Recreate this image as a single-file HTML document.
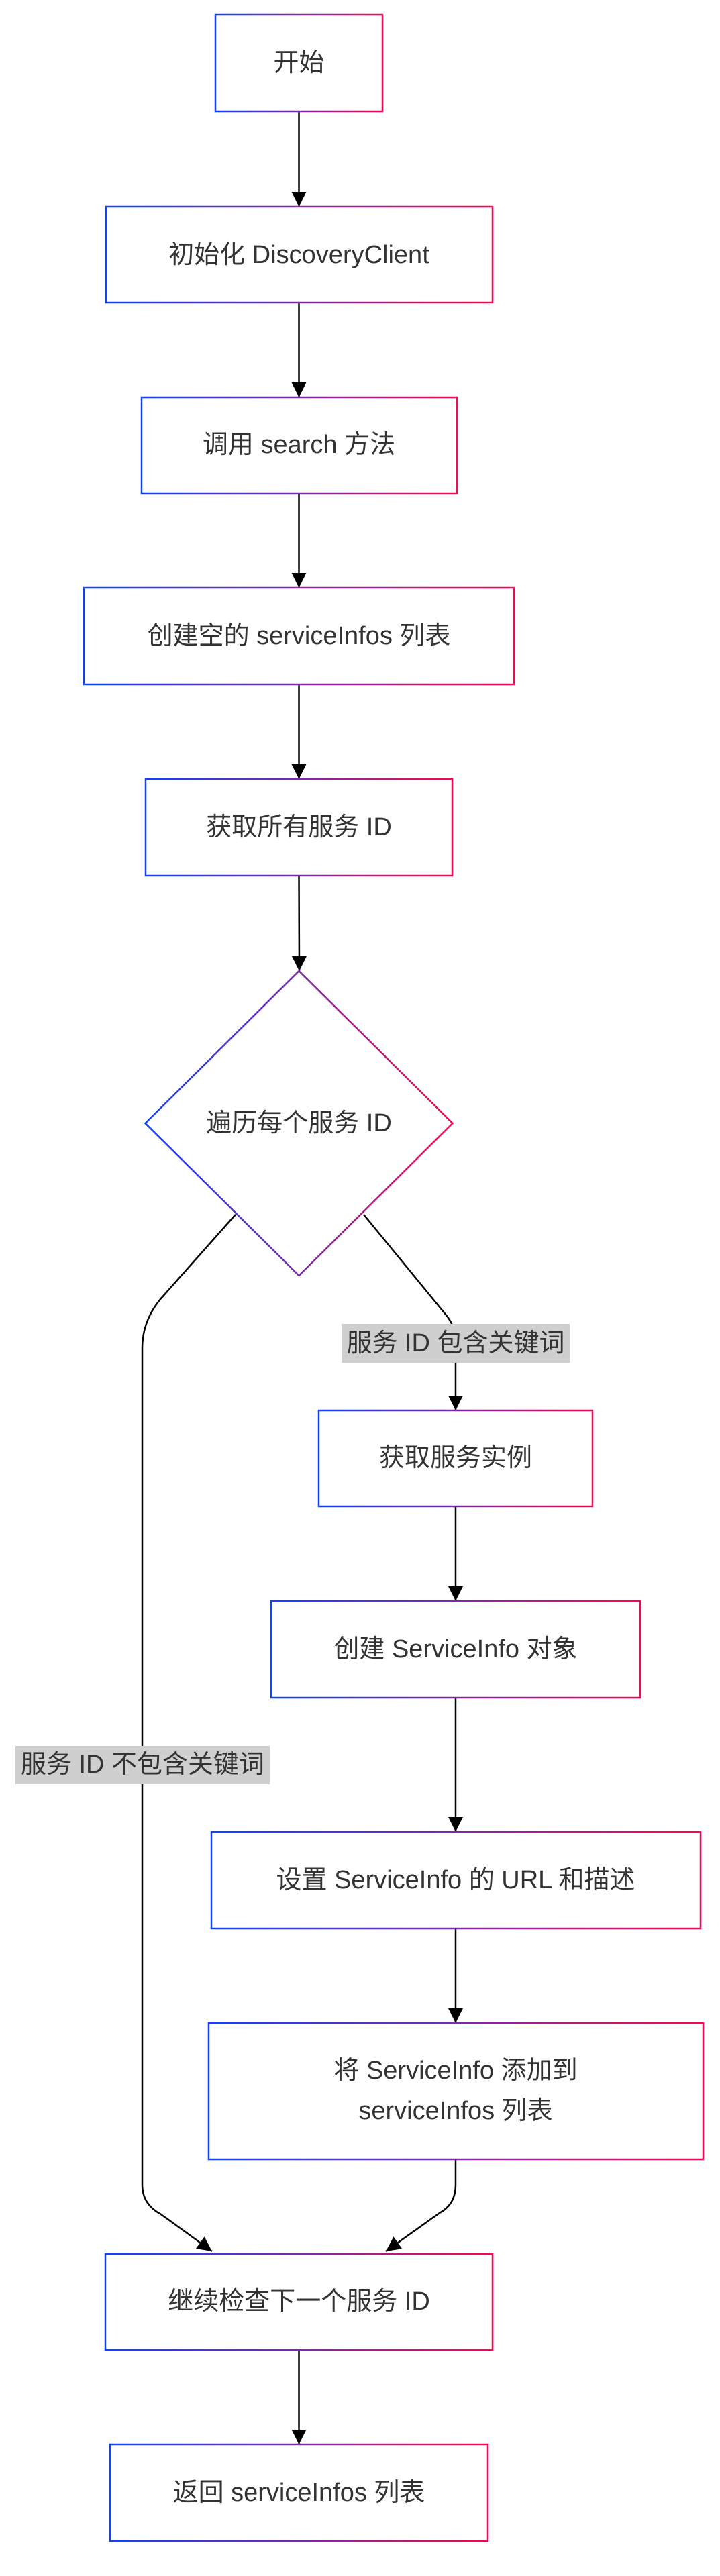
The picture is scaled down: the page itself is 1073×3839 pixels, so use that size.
<!DOCTYPE html>
<html><head><meta charset="utf-8"><style>
html,body{margin:0;padding:0;background:#fff;}
svg{display:block;}
text{font-family:"Liberation Sans","Noto Sans CJK SC",sans-serif;font-size:38px;fill:#333;}
</style></head><body>
<svg width="1073" height="3839" viewBox="0 0 1073 3839" xmlns="http://www.w3.org/2000/svg">
<defs>
<linearGradient id="g" x1="0" y1="0" x2="1" y2="0">
<stop offset="0" stop-color="#1040ff"/><stop offset="0.5" stop-color="#7a2aa8"/><stop offset="1" stop-color="#f5084f"/>
</linearGradient>
<marker id="a" viewBox="0 0 10 10" markerUnits="userSpaceOnUse" markerWidth="22" markerHeight="23" refX="10" refY="5" orient="auto">
<path d="M0,0 L10,5 L0,10 z" fill="#000"/>
</marker>
</defs>
<g fill="none" stroke="#000" stroke-width="2.5">
<path d="M445.5 166 L445.5 308" marker-end="url(#a)"/>
<path d="M445.5 451 L445.5 592" marker-end="url(#a)"/>
<path d="M445.5 735 L445.5 876" marker-end="url(#a)"/>
<path d="M445.5 1020 L445.5 1161" marker-end="url(#a)"/>
<path d="M445.5 1305 L446 1447" marker-end="url(#a)"/>
<path d="M351 1810 L240 1935 Q212 1968 212 2010 L212 3256 Q212 3285 240 3300 L316 3355" marker-end="url(#a)"/>
<path d="M542 1810 L665 1960 Q679 1977 679 2000 L679 2102" marker-end="url(#a)"/>
<path d="M679 2245 L679 2386" marker-end="url(#a)"/>
<path d="M679 2530 L679 2730" marker-end="url(#a)"/>
<path d="M679 2874 L679 3015" marker-end="url(#a)"/>
<path d="M679 3218 L679 3256 Q679 3285 655 3298 L575 3355" marker-end="url(#a)"/>
<path d="M445.5 3502 L445.5 3643" marker-end="url(#a)"/>
</g>
<g fill="#fff" stroke="url(#g)" stroke-width="2.5">
<rect x="321" y="22" width="249" height="144"/>
<rect x="158" y="308" width="576" height="143"/>
<rect x="211" y="592" width="470" height="143"/>
<rect x="125" y="876" width="641" height="144"/>
<rect x="217" y="1161" width="457" height="144"/>
<polygon points="445.5,1447 674.5,1674 445.5,1901 216.5,1674"/>
<rect x="475" y="2102" width="408" height="143"/>
<rect x="404" y="2386" width="550" height="144"/>
<rect x="315" y="2730" width="729" height="144"/>
<rect x="311" y="3015" width="737" height="203"/>
<rect x="157" y="3359" width="577" height="143"/>
<rect x="164" y="3643" width="563" height="144"/>
</g>
<rect x="509" y="1973" width="340" height="58" fill="#cfcfcf"/>
<rect x="23" y="2602" width="379" height="57" fill="#cfcfcf"/>
<g text-anchor="middle" dominant-baseline="central">
<text x="445.5" y="94">开始</text>
<text x="445.5" y="380">初始化 DiscoveryClient</text>
<text x="445.5" y="663">调用 search 方法</text>
<text x="445.5" y="948">创建空的 serviceInfos 列表</text>
<text x="445.5" y="1233">获取所有服务 ID</text>
<text x="445.5" y="1674">遍历每个服务 ID</text>
<text x="679" y="2002">服务 ID 包含关键词</text>
<text x="212.5" y="2630">服务 ID 不包含关键词</text>
<text x="679" y="2173">获取服务实例</text>
<text x="679" y="2458">创建 ServiceInfo 对象</text>
<text x="679" y="2802">设置 ServiceInfo 的 URL 和描述</text>
<text x="679" y="3086">将 ServiceInfo 添加到</text>
<text x="679" y="3146">serviceInfos 列表</text>
<text x="445.5" y="3430">继续检查下一个服务 ID</text>
<text x="445.5" y="3715">返回 serviceInfos 列表</text>
</g>
</svg>
</body></html>
